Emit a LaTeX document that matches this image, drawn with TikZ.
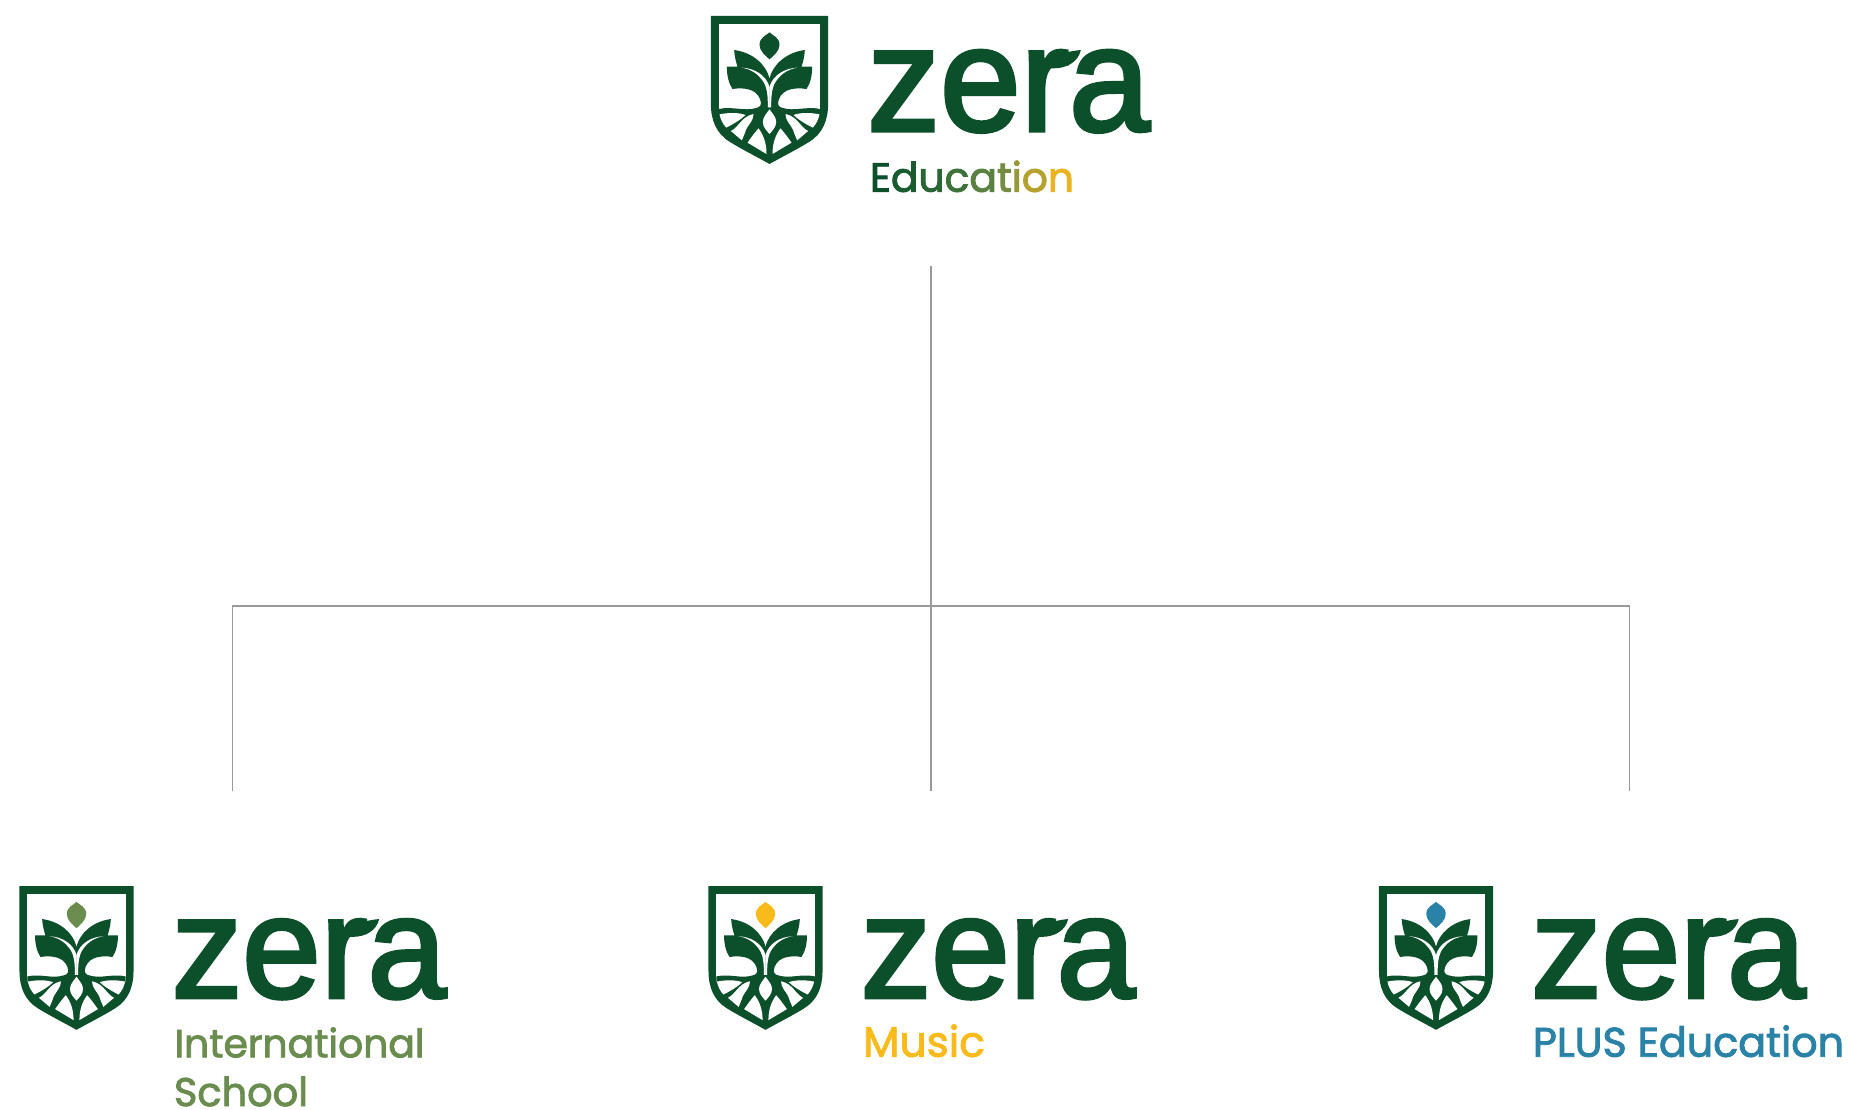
\documentclass[tikz,border=0pt]{standalone}
\usepackage{fontspec}
\usepackage{graphicx}
\newfontfamily\wordfont[FakeBold=2.6]{Liberation Sans}
\newfontfamily\subfont[FakeBold=2.2]{Poppins}
\definecolor{zdark}{HTML}{0C4F2B}
\definecolor{zgreen}{HTML}{6A8D4F}
\definecolor{zyellow}{HTML}{F9BB1B}
\definecolor{zblue}{HTML}{2A82A6}
\definecolor{zline}{HTML}{9A9A9A}
\definecolor{gA}{HTML}{0C4F2B}\definecolor{gB}{HTML}{1A5A2F}\definecolor{gC}{HTML}{2A6535}\definecolor{gD}{HTML}{3F723A}\definecolor{gE}{HTML}{5A8042}\definecolor{gF}{HTML}{768C42}\definecolor{gG}{HTML}{96983A}\definecolor{gH}{HTML}{B5A22E}\definecolor{gI}{HTML}{EAB320}
\tikzset{
  conn/.style={draw=zline,line width=1.5pt},
  word/.style={anchor=base west,inner sep=0pt,outer sep=0pt,text=zdark,font=\wordfont},
  sublabel/.style={anchor=base west,inner sep=0pt,outer sep=0pt,align=left,font=\subfont\fontsize{44}{44}\selectfont},
  ink/.style={fill=zdark,draw=none},
  paper/.style={fill=white,draw=none}
}
\newcommand{\crest}[5]{% name, x of centre, y of top, scale, bud colour
  \begin{scope}[shift={(#2,#3)},x=#4*0.33333pt,y=-#4*0.33333pt]
  \begin{scope}[shift={(0,-48)}]
    \path[ink] (-176,48) -- (176,48) -- (176,310) .. controls (176,360) and (160,400) .. (120,425) .. controls (85,447) and (35,472) .. (0,492) .. controls (-35,472) and (-85,447) .. (-120,425) .. controls (-160,400) and (-176,360) .. (-176,310) -- cycle;
    \path[paper] (-152,72) rectangle (152,345);
    \path[fill=#5] (0,97) .. controls (10,107) and (30,112) .. (30,135) .. controls (30,152) and (12,168) .. (0,178) .. controls (-12,168) and (-30,152) .. (-30,135) .. controls (-30,112) and (-10,107) .. (0,97) -- cycle;
    \foreach \m in {1,-1}{
      \begin{scope}[xscale=\m]
        \path[ink] (1,235) -- (0,235) .. controls (-10,195) and (-48,158) .. (-106,150) .. controls (-105,170) and (-100,188) .. (-96,200) -- (-128,200) .. controls (-128,225) and (-123,250) .. (-111,267) .. controls (-80,262) and (-40,265) .. (-28,298) .. controls (-22,315) and (-28,322) .. (-40,324) .. controls (-75,335) and (-110,318) .. (-152,327) -- (-152,350) -- (1,350) -- cycle;
      \end{scope}
    }
    \foreach \m in {1,-1}{
      \begin{scope}[xscale=\m]
        \path[paper] (-83,203) .. controls (-45,205) and (-10,225) .. (0.5,262) -- (0.5,322) -- (-5,322) .. controls (-5,290) and (-6,260) .. (-22,240) .. controls (-35,222) and (-55,208) .. (-83,203) -- cycle;
        \path[paper] (-150,343) .. controls (-120,337) and (-90,338) .. (-72,345) .. controls (-85,358) and (-108,372) .. (-130,383) .. controls (-140,372) and (-147,358) .. (-150,343) -- cycle;
        \path[paper] (-116,393) .. controls (-92,382) and (-85,350) .. (-48,342) .. controls (-48,362) and (-62,372) .. (-70,388) .. controls (-74,400) and (-78,410) .. (-83,421) -- cycle;
        \path[paper] (-66,428) .. controls (-55,412) and (-42,395) .. (-33,385) .. controls (-18,405) and (-9,430) .. (-9,462) -- cycle;
      \end{scope}
    }
    \path[paper] (0,328) .. controls (10,342) and (20,352) .. (20,366) .. controls (20,382) and (8,392) .. (0,402) .. controls (-8,392) and (-20,382) .. (-20,366) .. controls (-20,352) and (-10,342) .. (0,328) -- cycle;
    % wordmark
    \node[word] (#1word) at (294,392) {\resizebox{#4\dimexpr 282pt\relax}{#4\dimexpr 80pt\relax}{zera}};
    \path[ink] (832,205) .. controls (842,172) and (880,155) .. (934,150) .. controls (927,185) and (892,205) .. (853,205) -- cycle;
  \end{scope}
  \end{scope}
}
\newcommand{\fitw}[2]{\resizebox{#1pt}{!}{#2}}
\begin{document}
\begin{tikzpicture}[x=1pt,y=-1pt]
\useasboundingbox (0,0) rectangle (1851,1110);
\fill[white] (0,0) rectangle (1851,1110);
% connectors
\coordinate (rootend) at (931,266);
\coordinate (hub) at (931,606);
\coordinate (legL) at (232.7,791);
\coordinate (legM) at (931,791);
\coordinate (legR) at (1629.3,791);
\draw[conn] (rootend) -- (hub);
\draw[conn] (hub) -- (legM);
\draw[conn] (legL) |- (hub);
\draw[conn] (legR) |- (hub);
% logos
\crest{edu}{769.5}{16}{1}{zdark}
\crest{intl}{76.5}{886}{0.972}{zgreen}
\crest{music}{765.5}{886}{0.972}{zyellow}
\crest{plus}{1436}{886}{0.972}{zblue}
% labels
\node[sublabel] (edulabel) at (870,191.7) {\fitw{204}{\textcolor{gA}{E}\textcolor{gB}{d}\textcolor{gC}{u}\textcolor{gD}{c}\textcolor{gE}{a}\textcolor{gF}{t}\textcolor{gG}{i}\textcolor{gH}{o}\textcolor{gI}{n}}};
\node[sublabel,text=zgreen] (intl1) at (174.5,1057.3) {\fitw{250}{International}};
\node[sublabel,text=zgreen] (intl2) at (174,1106) {\fitw{134}{School}};
\node[sublabel,text=zyellow] (musiclabel) at (863,1056.7) {\fitw{122}{Music}};
\node[sublabel,text=zblue] (pluslabel) at (1533,1056.7) {\fitw{311}{PLUS Education}};
\end{tikzpicture}
\end{document}
